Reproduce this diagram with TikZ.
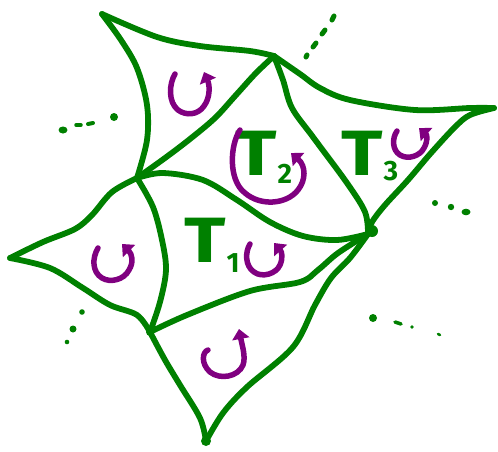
\documentclass[tikz,border=0pt]{standalone}
\usepackage{fontspec}
\setsansfont{Fira Sans}
\usetikzlibrary{arrows.meta}
\definecolor{lgreen}{RGB}{0,128,0}
\definecolor{lpurple}{RGB}{128,0,128}
\newcommand{\tri}[2]{\scalebox{1.2}[1]{T}\kern1pt\raisebox{-#2pt}{\fontsize{28}{28}\selectfont #1}}
\begin{document}
\begin{tikzpicture}[x=1pt,y=-1pt,
  edge/.style={draw=lgreen, line width=5.8pt, line cap=round, line join=round},
  rotarrow/.style={draw=lpurple, line width=5.5pt, line cap=round, -{Triangle[length=10pt,width=17pt]}},
  dashmark/.style={draw=lgreen, line width=5pt, line cap=round},
  tlabel/.style={text=lgreen, font=\sffamily\bfseries\fontsize{64}{64}\selectfont, inner sep=0pt, anchor=base west}]
\useasboundingbox (0,0) rectangle (498,451);
% vertices
\coordinate (A) at (102,14);
\coordinate (B) at (274,56);
\coordinate (C) at (137,178);
\coordinate (D) at (368,234);
\coordinate (E) at (494,108);
\coordinate (F) at (10,258);
\coordinate (G) at (150,332);
\coordinate (H) at (206,441);
% edges
\draw[edge] plot[smooth, tension=0.55] coordinates {(A) (157,37) (200,46) (250,51) (B)};
\draw[edge] plot[smooth, tension=0.55] coordinates {(A) (121,40) (137,68) (147,105) (147,140) (C)};
\draw[edge] plot[smooth, tension=0.55] coordinates {(C) (165,158) (190,139) (215,118) (236,95) (256,73) (B)};
\draw[edge] plot[smooth, tension=0.55] coordinates {(B) (283,80) (292,108) (313,137) (347,183) (365,212) (D)};
\draw[edge] plot[smooth, tension=0.55] coordinates {(B) (300,74) (320,88) (350,100) (415,110) (470,108) (E)};
\draw[edge] plot[smooth, tension=0.55] coordinates {(E) (470,115) (455,127) (431,153) (408,180) (385,205) (372,222) (D)};
\draw[edge] plot[smooth, tension=0.55] coordinates {(C) (163,173) (203,180) (237,200) (270,222) (303,236) (337,240) (D)};
\draw[edge] plot[smooth, tension=0.55] coordinates {(C) (153,207) (162,240) (166,270) (160,302) (G)};
\draw[edge] plot[smooth, tension=0.55] coordinates {(C) (112,192) (92,215) (75,229) (43,242) (F)};
\draw[edge] plot[smooth, tension=0.55] coordinates {(F) (50,268) (83,288) (110,305) (137,315) (G)};
\draw[edge] plot[smooth, tension=0.55] coordinates {(G) (187,315) (250,291) (300,282) (318,270) (338,253) (D)};
\draw[edge] plot[smooth, tension=0.55] coordinates {(G) (165,360) (180,385) (200,418) (H)};
\draw[edge] plot[smooth, tension=0.55] coordinates {(H) (223,413) (247,387) (293,347) (315,305) (331,278) (350,258) (D)};
% vertex blobs
\fill[lgreen] (D) ++(4,-3) circle[radius=6];
\fill[lgreen] (H) circle[radius=5];
\fill[lgreen] (G) circle[radius=4];
% ellipsis dots
\draw[dashmark] (306,57) -- (307,55);
\draw[dashmark] (313,47) -- (316,43);
\draw[dashmark] (322,34) -- (325,30);
\draw[dashmark] (332,20) -- (334,16);
\fill[lgreen] (63,130) ellipse[x radius=4.5, y radius=3.5];
\draw[dashmark, line width=3.5pt] (76,125) -- (81,125);
\draw[dashmark, line width=4pt] (88,124) -- (93,123);
\fill[lgreen] (114,117) circle[radius=4];
\fill[lgreen] (435,203) circle[radius=3];
\fill[lgreen] (451,207) circle[radius=3.2];
\fill[lgreen] (466,212) ellipse[x radius=4.5, y radius=3.3];
\fill[lgreen] (82,312) circle[radius=2.8];
\fill[lgreen] (73,329) circle[radius=3.5];
\fill[lgreen] (67,342) circle[radius=2.3];
\fill[lgreen] (373,318) circle[radius=4];
\draw[dashmark, line width=3.5pt] (395,322) -- (401,324);
\fill[lgreen] (412,327) circle[radius=1.8];
\draw[dashmark, line width=2.5pt] (438,334) -- (440,335);
% labels
\node[tlabel] (t1) at (184,262) {\tri{1}{10}};
\node[tlabel] (t2) at (235,175) {\tri{2}{8}};
\node[tlabel] (t3) at (341,175) {\tri{3}{5}};
% rotation arrows
\draw[rotarrow] (175,74) .. controls (169,84) and (168,102) .. (178,110) .. controls (186,116) and (198,115) .. (204,106) .. controls (210,98) and (210,86) .. (204,72);
\draw[rotarrow] (240,130) .. controls (230,145) and (228,180) .. (245,193) .. controls (260,206) and (286,205) .. (298,190) .. controls (306,180) and (306,166) .. (291,153);
\draw[rotarrow] (397,131) .. controls (392,138) and (392,150) .. (400,155) .. controls (408,160) and (420,156) .. (424,148) .. controls (428,141) and (427,135) .. (419,128);
\draw[rotarrow] (250,244) .. controls (245,252) and (245,266) .. (254,272) .. controls (262,278) and (276,274) .. (280,265) .. controls (283,258) and (282,252) .. (274,243);
\draw[rotarrow] (98,248) .. controls (92,258) and (92,272) .. (102,278) .. controls (110,283) and (124,280) .. (129,270) .. controls (134,262) and (132,254) .. (122,244);
\draw[rotarrow] (208,350) .. controls (202,352) and (201,364) .. (210,372) .. controls (220,380) and (238,377) .. (243,365) .. controls (246,357) and (242,345) .. (239,329);
\end{tikzpicture}
\end{document}
